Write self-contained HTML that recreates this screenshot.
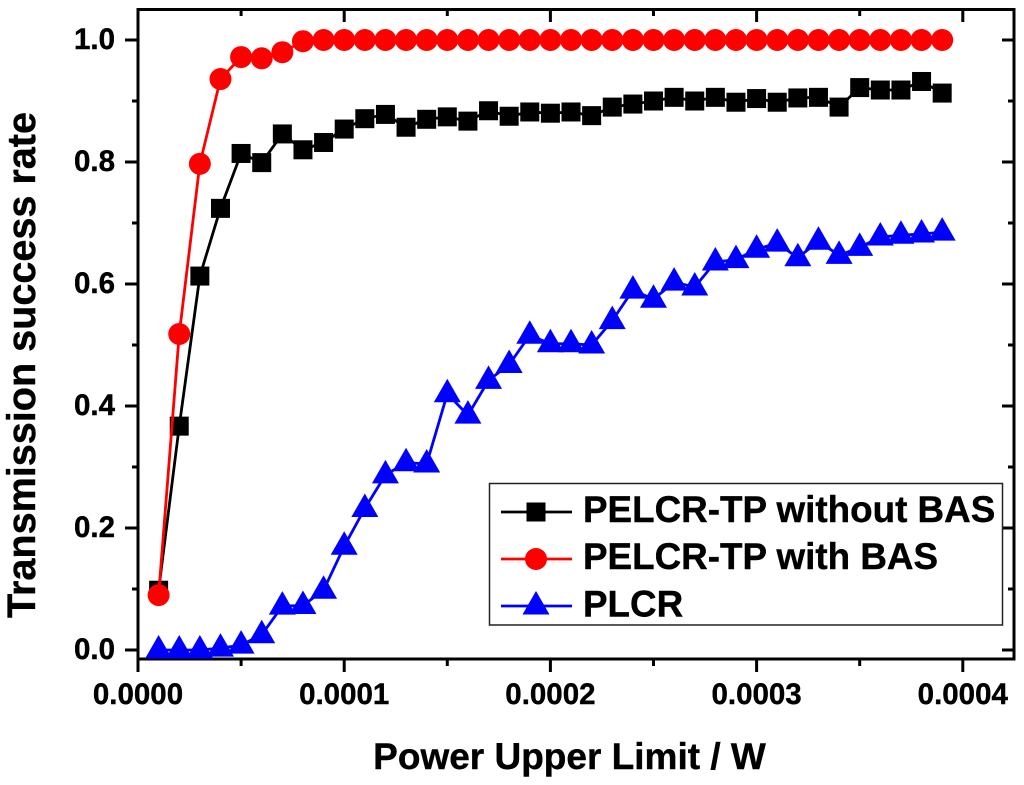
<!DOCTYPE html>
<html>
<head>
<meta charset="utf-8">
<title>Transmission success rate chart</title>
<style>
html,body{margin:0;padding:0;background:#fff;width:1024px;height:785px;overflow:hidden}
svg{display:block}
text{font-family:"Liberation Sans",sans-serif;font-weight:bold;fill:#000;stroke:#000;stroke-width:0.4px}
</style>
</head>
<body>
<svg id="chart" xmlns="http://www.w3.org/2000/svg" width="1024" height="785" viewBox="0 0 1024 785"></svg>
<script>
const powerLimits = [0.00001,0.00002,0.00003,0.00004,0.00005,0.00006,0.00007,0.00008,0.00009,0.0001,0.00011,0.00012,0.00013,0.00014,0.00015,0.00016,0.00017,0.00018,0.00019,0.0002,0.00021,0.00022,0.00023,0.00024,0.00025,0.00026,0.00027,0.00028,0.00029,0.0003,0.00031,0.00032,0.00033,0.00034,0.00035,0.00036,0.00037,0.00038,0.00039];
const withoutBas = [0.098,0.367,0.613,0.724,0.814,0.799,0.846,0.82,0.832,0.854,0.871,0.878,0.857,0.87,0.874,0.867,0.884,0.875,0.882,0.88,0.882,0.876,0.89,0.895,0.9,0.906,0.9,0.906,0.898,0.904,0.898,0.905,0.906,0.89,0.922,0.918,0.918,0.932,0.913];
const withBas = [0.09,0.518,0.797,0.936,0.972,0.97,0.98,0.998,1,1,1,1,1,1,1,1,1,1,1,1,1,1,1,1,1,1,1,1,1,1,1,1,1,1,1,1,1,1,1];
const plcr = [0,0,0,0.003,0.008,0.025,0.072,0.073,0.098,0.17,0.232,0.287,0.307,0.305,0.42,0.385,0.442,0.468,0.516,0.502,0.502,0.5,0.54,0.59,0.575,0.603,0.595,0.636,0.64,0.657,0.667,0.643,0.67,0.647,0.66,0.677,0.68,0.682,0.685];
const xTickValues = [0,0.0001,0.0002,0.0003,0.0004];
const xTickLabels = ["0.0000","0.0001","0.0002","0.0003","0.0004"];
const xMinorValues = [0.00005,0.00015,0.00025,0.00035];
const yTickValues = [0,0.2,0.4,0.6,0.8,1];
const yTickLabels = ["0.0","0.2","0.4","0.6","0.8","1.0"];
const yMinorValues = [0.1,0.3,0.5,0.7,0.9];

const svg = document.getElementById('chart');
const NS = 'http://www.w3.org/2000/svg';
const frame = {left:138, right:1014, top:9.5, bottom:659};
function xScale(v){ return 138 + v / 0.0001 * 206.2; }
function yScale(v){ return 650 - v * 610; }
function make(tag, attrs, parent){
  const el = document.createElementNS(NS, tag);
  for (const k in attrs) el.setAttribute(k, attrs[k]);
  (parent || svg).appendChild(el);
  return el;
}
function triPoints(cx, cy){
  return (cx-13.5)+','+(cy+8.5)+' '+cx+','+(cy-15)+' '+(cx+13.5)+','+(cy+8.5);
}

// axes
const axes = make('g', {stroke:'#000','stroke-width':3,fill:'none','stroke-linecap':'square'});


const axisBottom = make('line', {x1:frame.left,x2:frame.right,y1:frame.bottom,y2:frame.bottom}, axes);


const axisLeft = make('line', {x1:frame.left,x2:frame.left,y1:frame.top,y2:frame.bottom}, axes);


const axisTop = make('line', {x1:frame.left,x2:frame.right,y1:frame.top,y2:frame.top}, axes);


const axisRight = make('line', {x1:frame.right,x2:frame.right,y1:frame.top,y2:frame.bottom}, axes);



xTickValues.forEach(function(v, i){
  const x = xScale(v);
  const t1 = make('line', {x1:x,x2:x,y1:frame.bottom,y2:672,'stroke-linecap':'butt'}, axes);
  
  
  const t2 = make('line', {x1:x,x2:x,y1:frame.top,y2:22,'stroke-linecap':'butt'}, axes);
  
  
  const label = make('text', {x:x,y:704,'text-anchor':'middle','font-size':29.5});
  label.textContent = xTickLabels[i];
  
  
});
xMinorValues.forEach(function(v){
  const x = xScale(v);
  const t1 = make('line', {x1:x,x2:x,y1:frame.bottom,y2:666,'stroke-linecap':'butt'}, axes);
  
  
  const t2 = make('line', {x1:x,x2:x,y1:frame.top,y2:16,'stroke-linecap':'butt'}, axes);
  
  
});
yTickValues.forEach(function(v, i){
  const y = yScale(v);
  const t1 = make('line', {x1:125,x2:frame.left,y1:y,y2:y,'stroke-linecap':'butt'}, axes);
  
  
  const t2 = make('line', {x1:1002,x2:frame.right,y1:y,y2:y,'stroke-linecap':'butt'}, axes);
  
  
  const label = make('text', {x:115,y:y+9,'text-anchor':'end','font-size':29.5});
  label.textContent = yTickLabels[i];
  
  
});
yMinorValues.forEach(function(v){
  const y = yScale(v);
  const t1 = make('line', {x1:132,x2:frame.left,y1:y,y2:y,'stroke-linecap':'butt'}, axes);
  
  
  const t2 = make('line', {x1:1008,x2:frame.right,y1:y,y2:y,'stroke-linecap':'butt'}, axes);
  
  
});

// series
function linePoints(values){
  return values.map(function(v, i){ return xScale(powerLimits[i]) + ',' + yScale(v); }).join(' ');
}
const lineBlack = make('polyline', {points:linePoints(withoutBas),fill:'none',stroke:'#000','stroke-width':2.8});


withoutBas.forEach(function(v, i){
  const m = make('rect', {x:xScale(powerLimits[i])-9.5,y:yScale(v)-9.5,width:19,height:19,fill:'#000'});
  
  
});
const lineRed = make('polyline', {points:linePoints(withBas),fill:'none',stroke:'#f00','stroke-width':2.8});


withBas.forEach(function(v, i){
  const m = make('circle', {cx:xScale(powerLimits[i]),cy:yScale(v),r:11,fill:'#f00'});
  
  
});
const lineBlue = make('polyline', {points:linePoints(plcr),fill:'none',stroke:'#00f','stroke-width':2.8});


plcr.forEach(function(v, i){
  const m = make('polygon', {points:triPoints(xScale(powerLimits[i]), yScale(v)),fill:'#00f'});
  
  
});

// titles
const xTitle = make('text', {x:569.5,y:769,'text-anchor':'middle','font-size':37});
xTitle.textContent = 'Power Upper Limit / W';


const yTitle = make('text', {x:0,y:0,'text-anchor':'middle','font-size':39.6,transform:'translate(35 365) rotate(-90)'});
yTitle.textContent = 'Transmission success rate';



// legend
const legend = make('g', {});


const legendBox = make('rect', {x:489.5,y:483.5,width:513,height:141.5,fill:'#fff',stroke:'#222','stroke-width':1.5}, legend);



const e1 = make('g', {}, legend);


make('line', {x1:501,x2:572,y1:512,y2:512,stroke:'#000','stroke-width':2.8}, e1);
make('rect', {x:526.5,y:502.5,width:19,height:19,fill:'#000'}, e1);
make('text', {x:583,y:522,'font-size':36.8}, e1).textContent = 'PELCR-TP without BAS';

const e2 = make('g', {}, legend);


make('line', {x1:501,x2:572,y1:559,y2:559,stroke:'#f00','stroke-width':2.8}, e2);
make('circle', {cx:536,cy:559,r:11,fill:'#f00'}, e2);
make('text', {x:583,y:569,'font-size':36.8}, e2).textContent = 'PELCR-TP with BAS';

const e3 = make('g', {}, legend);


make('line', {x1:501,x2:572,y1:606,y2:606,stroke:'#00f','stroke-width':2.8}, e3);
make('polygon', {points:triPoints(536, 606),fill:'#00f'}, e3);
make('text', {x:583,y:616.5,'font-size':36.8}, e3).textContent = 'PLCR';
</script>
</body>
</html>
